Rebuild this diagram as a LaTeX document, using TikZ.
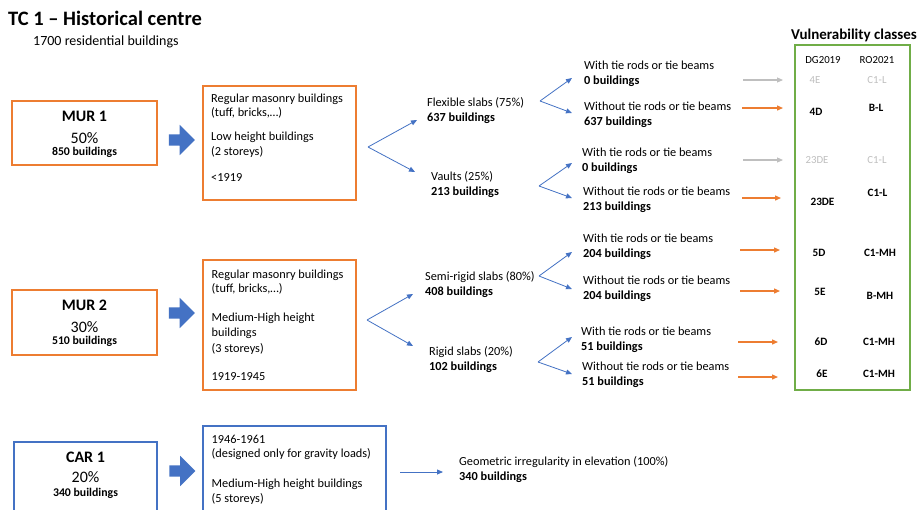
\documentclass[tikz,border=0pt]{standalone}
\usepackage{fontspec}
\setmainfont{Carlito}
\usetikzlibrary{arrows.meta,shapes.arrows}
\definecolor{orng}{HTML}{ED7D31}
\definecolor{blu}{HTML}{4472C4}
\definecolor{grn}{HTML}{70AD47}
\definecolor{lgray}{HTML}{BFBFBF}
\begin{document}
\begin{tikzpicture}[x=1pt,y=-1pt,
  txt/.style={inner sep=0pt, font=\fontsize{12.3}{14.6}\selectfont, align=left, anchor=base west},
  obox/.style={draw=orng, line width=1.2pt, inner sep=0pt},
  bbox/.style={draw=blu, line width=1.2pt, inner sep=0pt},
  blockarrow/.style={single arrow, fill=blu, draw=none, inner sep=5.5pt, single arrow head extend=9.5pt, minimum height=26pt},
  br/.style={draw=blu, line width=0.8pt, -{Triangle[length=6pt,width=5pt]}},
  oarr/.style={draw=orng, line width=1.3pt, -{Triangle[length=6pt,width=5pt]}},
  garr/.style={draw=lgray, line width=1.1pt, -{Triangle[length=6pt,width=5pt]}},
  murtitle/.style={inner sep=0pt, anchor=base, font=\fontsize{16}{18}\selectfont\bfseries},
  murpct/.style={inner sep=0pt, anchor=base, font=\fontsize{16}{18}\selectfont},
  murn/.style={inner sep=0pt, anchor=base, font=\fontsize{11.8}{14}\selectfont\bfseries},
  clsb/.style={inner sep=0pt, anchor=base, font=\fontsize{11.2}{13}\selectfont\bfseries},
  clsg/.style={inner sep=0pt, anchor=base, font=\fontsize{10.8}{12}\selectfont, text=lgray},
  clsh/.style={inner sep=0pt, anchor=base, font=\fontsize{10.8}{12}\selectfont},
]
\useasboundingbox (0,0) rectangle (918,509);
\clip (0,0) rectangle (918,509);
\fill[white] (0,0) rectangle (918,509);

% title
\node[inner sep=0pt, anchor=base west, font=\fontsize{20.5}{24}\selectfont\bfseries] (title) at (8,25.5) {TC 1 -- Historical centre};
\node[inner sep=0pt, anchor=base west, font=\fontsize{14}{16}\selectfont] (sub) at (33,45) {1700 residential buildings};

% ---------- MUR 1 ----------
\node[obox, minimum width=145pt, minimum height=64pt] (mur1) at (84.5,133) {};
\node[murtitle] (mur1t) at (84.5,121.7) {MUR 1};
\node[murpct] (mur1p) at (84.5,143.3) {50\%};
\node[murn] (mur1n) at (84.5,155) {850 buildings};
\node[blockarrow] (ba1) at (179,140) {};
\node[obox, minimum width=153pt, minimum height=114pt] (d1) at (279.5,143) {};
\node[txt] (d1t) at (211,181) {Regular masonry buildings\\(tuff, bricks,…)\\[9.5pt]Low height buildings\\(2 storeys)\\[11pt]<1919};

\coordinate (v1) at (368,147);
\coordinate (v1a) at (417,120);
\coordinate (v1b) at (415,172);
\draw[br] (v1) -- (v1a);
\draw[br] (v1) -- (v1b);
\node[txt] (flex) at (427,121.4) {Flexible slabs (75\%)\\\textbf{637 buildings}};
\node[txt] (vault) at (431,195.4) {Vaults (25\%)\\\textbf{213 buildings}};

\coordinate (vf) at (540,101);
\coordinate (vfa) at (572,78);
\coordinate (vfb) at (572,113);
\draw[br] (vf) -- (vfa);
\draw[br] (vf) -- (vfb);
\node[txt] (fw) at (584,84.4) {With tie rods or tie beams\\\textbf{0 buildings}};
\node[txt] (fwo) at (584,125.4) {Without tie rods or tie beams\\\textbf{637 buildings}};

\coordinate (vv) at (539,186);
\coordinate (vva) at (572,163);
\coordinate (vvb) at (572,198);
\draw[br] (vv) -- (vva);
\draw[br] (vv) -- (vvb);
\node[txt] (vw) at (582,171.4) {With tie rods or tie beams\\\textbf{0 buildings}};
\node[txt] (vwo) at (583,210.4) {Without tie rods or tie beams\\\textbf{213 buildings}};

% ---------- MUR 2 ----------
\node[obox, minimum width=145pt, minimum height=65pt] (mur2) at (84.5,322.5) {};
\node[murtitle] (mur2t) at (84.5,310.7) {MUR 2};
\node[murpct] (mur2p) at (84.5,332) {30\%};
\node[murn] (mur2n) at (84.5,344.5) {510 buildings};
\node[blockarrow] (ba2) at (179,313) {};
\node[obox, minimum width=153pt, minimum height=130pt] (d2) at (279.5,325) {};
\node[txt] (d2t) at (211.5,380.7) {Regular masonry buildings\\(tuff, bricks,…)\\[14.6pt]Medium-High height\\buildings\\[1.5pt](3 storeys)\\[13.5pt]1919-1945};

\coordinate (v2) at (367,320);
\coordinate (v2a) at (413,294);
\coordinate (v2b) at (413,346);
\draw[br] (v2) -- (v2a);
\draw[br] (v2) -- (v2b);
\node[txt] (semi) at (425,295.4) {Semi-rigid slabs (80\%)\\\textbf{408 buildings}};
\node[txt] (rigid) at (429,370.4) {Rigid slabs (20\%)\\\textbf{102 buildings}};

\coordinate (vs) at (539,276);
\coordinate (vsa) at (572,252);
\coordinate (vsb) at (572,289);
\draw[br] (vs) -- (vsa);
\draw[br] (vs) -- (vsb);
\node[txt] (sw) at (583,257.4) {With tie rods or tie beams\\\textbf{204 buildings}};
\node[txt] (swo) at (583,299.4) {Without tie rods or tie beams\\\textbf{204 buildings}};

\coordinate (vr) at (538,362);
\coordinate (vra) at (572,337);
\coordinate (vrb) at (572,374);
\draw[br] (vr) -- (vra);
\draw[br] (vr) -- (vrb);
\node[txt] (rw) at (581,350.4) {With tie rods or tie beams\\\textbf{51 buildings}};
\node[txt] (rwo) at (582,385.4) {Without tie rods or tie beams\\\textbf{51 buildings}};

% ---------- CAR 1 ----------
\node[bbox, minimum width=143pt, minimum height=98pt] (car1) at (85.5,491) {};
\node[murtitle] (car1t) at (85.5,462.3) {CAR 1};
\node[murpct] (car1p) at (85.5,482.7) {20\%};
\node[murn] (car1n) at (85.5,496) {340 buildings};
\node[blockarrow] (ba3) at (179.5,471) {};
\node[bbox, minimum width=183pt, minimum height=114pt] (d3) at (294.5,483) {};
\node[txt] (d3t) at (211.5,502) {1946-1961\\(designed only for gravity loads)\\[15pt]Medium-High height buildings\\(5 storeys)};
\coordinate (c1) at (400,472);
\coordinate (c2) at (443,472);
\draw[br] (c1) -- (c2);
\node[txt] (geo) at (459,480.4) {Geometric irregularity in elevation (100\%)\\\textbf{340 buildings}};

% ---------- Vulnerability classes ----------
\node[inner sep=0pt, anchor=base, font=\fontsize{15}{17}\selectfont\bfseries] (vc) at (854,39.3) {Vulnerability classes};
\node[draw=grn, line width=1.6pt, minimum width=115pt, minimum height=345pt, inner sep=0pt] (gbox) at (852.5,217.5) {};
\node[clsh] (hdg) at (823,63.4) {DG2019};
\node[clsh] (hro) at (877,63.4) {RO2021};

\node[clsg] (a1) at (815,83.4) {4E};
\node[clsg] (b1) at (877,83.4) {C1-L};
\node[clsb] (a2) at (816,115.4) {4D};
\node[clsb] (b2) at (876,111.4) {B-L};
\node[clsg] (a3) at (817,163.4) {23DE};
\node[clsg] (b3) at (877,163.4) {C1-L};
\node[clsb] (a4) at (822.5,205.4) {23DE};
\node[clsb] (b4) at (877.5,196.4) {C1-L};
\node[clsb] (a5) at (819,256.4) {5D};
\node[clsb] (b5) at (880,256.4) {C1-MH};
\node[clsb] (a6) at (820,295.4) {5E};
\node[clsb] (b6) at (880,299.4) {B-MH};
\node[clsb] (a7) at (821,345.4) {6D};
\node[clsb] (b7) at (879,345.4) {C1-MH};
\node[clsb] (a8) at (822,377.4) {6E};
\node[clsb] (b8) at (879,377.4) {C1-MH};

\coordinate (s1) at (743,80);  \coordinate (e1) at (783,80);
\coordinate (s2) at (742,108); \coordinate (e2) at (783,108);
\coordinate (s3) at (743,160); \coordinate (e3) at (783,160);
\coordinate (s4) at (742,198); \coordinate (e4) at (781,198);
\coordinate (s5) at (740,250); \coordinate (e5) at (780,250);
\coordinate (s6) at (740,291); \coordinate (e6) at (780,291);
\coordinate (s7) at (738,342); \coordinate (e7) at (778,342);
\coordinate (s8) at (738,377); \coordinate (e8) at (778,377);
\draw[garr] (s1) -- (e1);
\draw[oarr] (s2) -- (e2);
\draw[garr] (s3) -- (e3);
\draw[oarr] (s4) -- (e4);
\draw[oarr] (s5) -- (e5);
\draw[oarr] (s6) -- (e6);
\draw[oarr] (s7) -- (e7);
\draw[oarr] (s8) -- (e8);
\end{tikzpicture}
\end{document}
